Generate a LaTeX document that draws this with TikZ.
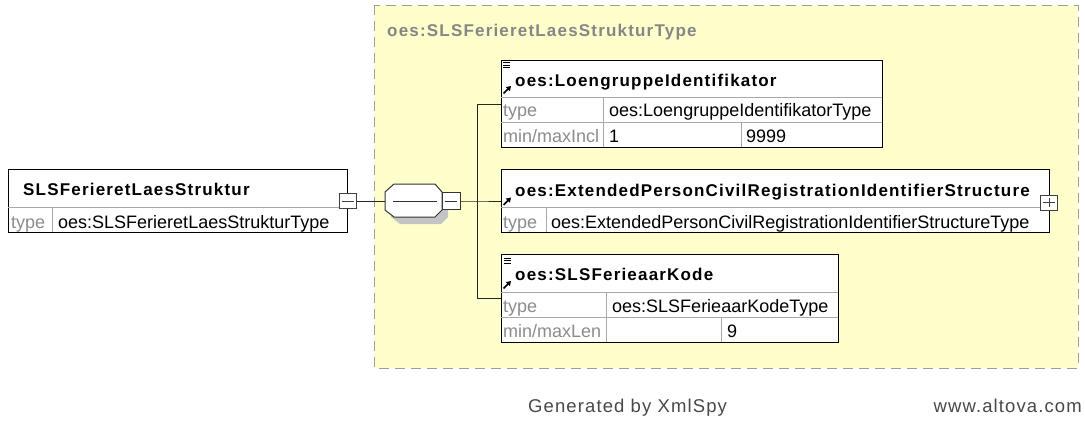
\documentclass[tikz,border=0pt]{standalone}
\usepackage{fontspec}
\setmainfont{Liberation Sans}
\newfontfamily\nmfont[LetterSpace=7]{Liberation Sans}
\newfontfamily\ftfont[LetterSpace=6]{Liberation Sans}
\usetikzlibrary{arrows.meta}
\definecolor{yel}{HTML}{FFFFCC}
\definecolor{dashgray}{HTML}{A0A0A0}
\definecolor{cellline}{HTML}{A8A8A8}
\definecolor{lblgray}{HTML}{8C8C8C}
\definecolor{titlegray}{HTML}{868686}
\definecolor{shadowgray}{HTML}{C4C4C4}
\definecolor{footgray}{HTML}{484848}
\tikzset{
 elbox/.style={draw=black, fill=white, line width=1pt, inner sep=0pt, anchor=north west},
 cell/.style={draw=cellline, line width=0.9pt},
 nametxt/.style={anchor=base west, inner sep=0pt, font=\nmfont\bfseries\fontsize{17}{20}\selectfont},
 valtxt/.style={anchor=base west, inner sep=0pt, font=\fontsize{18}{20}\selectfont},
 lbltxt/.style={valtxt, text=lblgray},
 conn/.style={draw=black!85, line width=1pt},
 pmbox/.style={draw=black!75, fill=white, line width=0.9pt, minimum width=17pt, minimum height=15pt, inner sep=0pt},
 docicon/.style={draw=black, line width=0.7pt},
 refarrow/.style={-{Triangle[length=4.5pt,width=5.5pt]}, line width=1.7pt},
 foottxt/.style={inner sep=0pt, text=footgray, font=\ftfont\fontsize{18.5}{20}\selectfont},
}
\begin{document}
\begin{tikzpicture}[x=1pt,y=-1pt]
\useasboundingbox (0,0) rectangle (1085,423);
% complex type area
\draw[fill=yel, draw=dashgray, line width=1pt, dash pattern=on 10pt off 6pt] (374,5) rectangle (1078,368);
\node[anchor=base west, inner sep=0pt, text=titlegray, font=\nmfont\bfseries\fontsize{17}{20}\selectfont] (title) at (387,36) {oes:SLSFerieretLaesStrukturType};

% left element
\node[elbox, minimum width=339pt, minimum height=63pt] (el) at (8,169) {};
\draw[cell] (8,207) -- (347,207);
\draw[cell] (52,207) -- (52,232);
\node[nametxt] (elname) at (23,195) {SLSFerieretLaesStruktur};
\node[lbltxt] (eltl) at (11,228) {type};
\node[valtxt] (eltv) at (58,228) {oes:SLSFerieretLaesStrukturType};
\node[pmbox] (m0) at (348,201) {};
\draw[black!75, line width=0.9pt] ([xshift=3pt]m0.west) -- ([xshift=-3pt]m0.east);

% sequence compositor
\fill[shadowgray] (391,199) -- (400,191) -- (441,191) -- (448,199) -- (448,217) -- (441,224) -- (400,224) -- (391,217) -- cycle;
\draw[fill=white, draw=black!80, line width=1pt] (385,192) -- (394,184) -- (435,184) -- (442,192) -- (442,210) -- (435,217) -- (394,217) -- (385,210) -- cycle;
\node[inner sep=0pt, minimum width=57pt, minimum height=33pt] (seq) at (413.5,200.5) {};
\draw[black!80, line width=1pt] (393,201) -- (437,201);
\node[pmbox, minimum width=18pt, minimum height=17pt, draw=black!80] (sq) at (451,201) {};
\draw[black!80, line width=1pt] ([xshift=3pt]sq.west) -- ([xshift=-3pt]sq.east);

% box 1
\node[elbox, minimum width=381pt, minimum height=87pt] (b1) at (501,60) {};
\draw[cell] (501,97) -- (882,97);
\draw[cell] (501,122) -- (882,122);
\draw[cell] (603,97) -- (603,147);
\draw[cell] (741,122) -- (741,147);
\draw[docicon] (503,62.5) -- (510,62.5) (503,65) -- (510,65) (503,67.5) -- (510,67.5);
\draw[refarrow] (503.5,93.5) -- (511,86);
\node[nametxt] (b1name) at (515,86) {oes:LoengruppeIdentifikator};
\node[lbltxt] at (503,116.5) {type};
\node[valtxt] at (609,116.5) {oes:LoengruppeIdentifikatorType};
\node[lbltxt] at (503,142) {min/maxIncl};
\node[valtxt] at (609,142) {1};
\node[valtxt] at (746,142) {9999};

% box 2
\node[elbox, minimum width=548pt, minimum height=63pt] (b2) at (501,169) {};
\draw[cell] (501,207) -- (1049,207);
\draw[cell] (546,207) -- (546,232);
\draw[refarrow] (503.5,205) -- (511,197.5);
\node[nametxt] (b2name) at (515,196) {oes:ExtendedPersonCivilRegistrationIdentifierStructure};
\node[lbltxt] at (503,228) {type};
\node[valtxt] at (551,228) {oes:ExtendedPersonCivilRegistrationIdentifierStructureType};
\node[pmbox] (p2) at (1049,202.5) {};
\draw[black!75, line width=0.9pt] ([xshift=3pt]p2.west) -- ([xshift=-3pt]p2.east) ([yshift=-3pt]p2.north) -- ([yshift=3pt]p2.south);

% box 3
\node[elbox, minimum width=337pt, minimum height=88pt] (b3) at (501,254) {};
\draw[cell] (501,292) -- (838,292);
\draw[cell] (501,317) -- (838,317);
\draw[cell] (606,292) -- (606,342);
\draw[cell] (721,317) -- (721,342);
\draw[docicon] (504,258) -- (511,258) (504,260.5) -- (511,260.5) (504,263) -- (511,263);
\draw[refarrow] (503.5,288.5) -- (511,281);
\node[nametxt] (b3name) at (515,280) {oes:SLSFerieaarKode};
\node[lbltxt] at (503,312) {type};
\node[valtxt] at (612,312) {oes:SLSFerieaarKodeType};
\node[lbltxt] at (503,337) {min/maxLen};
\node[valtxt] at (727,337) {9};

% connectors
\coordinate (J) at (477,201);
\draw[conn] (m0.east) -- (seq.west |- m0.east);
\draw[conn] (sq.east) -- (J) -- (b2.west |- J);
\draw[conn] (b1.west -| J) -- (b3.west -| J);
\draw[conn] (b1.west -| J) -- (b1.west);
\draw[conn] (b3.west -| J) -- (b3.west);

% footer
\node[foottxt, anchor=base west] (gen) at (528,412) {Generated by XmlSpy};
\node[foottxt, anchor=base east] (www) at (1082,412) {www.altova.com};
\end{tikzpicture}
\end{document}
